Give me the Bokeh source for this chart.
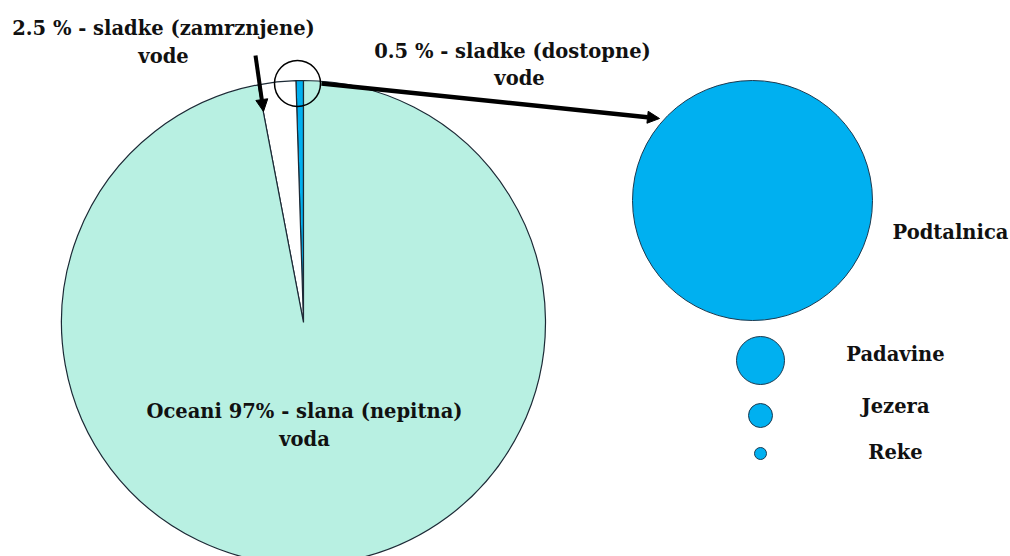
import numpy as np
from bokeh.plotting import figure
from bokeh.models import Range1d, Arrow, NormalHead, ColumnDataSource
from bokeh.core.properties import value
from bokeh.embed import file_html
from bokeh.resources import INLINE

# Shares of the world's water (percent)
water_parts = ["sladke (dostopne)", "sladke (zamrznjene)", "Oceani"]
water_shares = [0.5, 2.5, 97.0]
water_colors = ["#00b0f0", "#ffffff", "#b8f0e2"]

# Accessible fresh water stores, drawn as circles of relative size
fresh_stores = ["Podtalnica", "Padavine", "Jezera", "Reke"]
fresh_sizes = [120, 24, 12, 6]

W, H = 1010, 556
FONT = "DejaVu Serif"


def Y(y):
    # page-style y (from the top) -> plot y
    return H - y


p = figure(width=W, height=H, output_backend="svg", toolbar_location=None,
           x_range=Range1d(0, W), y_range=Range1d(0, H), min_border=0)
p.axis.visible = False
p.grid.visible = False
p.outline_line_color = None
p.background_fill_color = "white"
p.border_fill_color = "white"

# Pie: starts at the top and runs anticlockwise
cx, cy, R = 303, Y(322), 242
shares = np.array(water_shares) / sum(water_shares)
ends = np.pi / 2 + np.cumsum(shares) * 2 * np.pi
starts = np.concatenate([[np.pi / 2], ends[:-1]])
pie = ColumnDataSource(dict(start=starts, end=ends, color=water_colors,
                            name=water_parts))
p.wedge(x=cx, y=cy, radius=R, start_angle="start", end_angle="end",
        fill_color="color", line_color="#1c2a36", line_width=1.2, source=pie)

# Circle marking the accessible fresh-water slice
p.circle(x=297, y=Y(83), radius=23, fill_color=None,
         line_color="black", line_width=1.5)

# Fresh-water stores
store_y = [Y(200), Y(360), Y(415), Y(453)]
p.circle(x=[752, 760, 760, 760], y=store_y, radius=fresh_sizes,
         fill_color="#00b0f0", line_color="#1c3a50", line_width=1)

# Arrows
p.add_layout(Arrow(end=NormalHead(size=12, fill_color="black", line_color="black"),
                   x_start=255, y_start=Y(55), x_end=263, y_end=Y(111),
                   line_width=4, line_color="black"))
p.add_layout(Arrow(end=NormalHead(size=12, fill_color="black", line_color="black"),
                   x_start=321, y_start=Y(83), x_end=659, y_end=Y(118),
                   line_width=4.5, line_color="black"))

# Labels
labels = dict(
    x=[163, 163, 512, 519, 304, 304],
    y=[Y(28), Y(56), Y(51), Y(78), Y(411), Y(439)],
    text=["2.5 % - sladke (zamrznjene)", "vode",
          "0.5 % - sladke (dostopne)", "vode",
          "Oceani 97% - slana (nepitna)", "voda"],
)
p.text(x="x", y="y", text="text", source=ColumnDataSource(labels),
       text_align="center", text_baseline="middle",
       text_font=value(FONT), text_font_style="bold",
       text_font_size="19.5px", text_color="#111111")

p.text(x=[950, 895, 895, 895], y=[Y(232), Y(354), Y(406), Y(452)],
       text=fresh_stores, text_align="center", text_baseline="middle",
       text_font=value(FONT), text_font_style="bold",
       text_font_size="19.5px", text_color="#111111")

open("out.html", "w").write(file_html(p, INLINE))
